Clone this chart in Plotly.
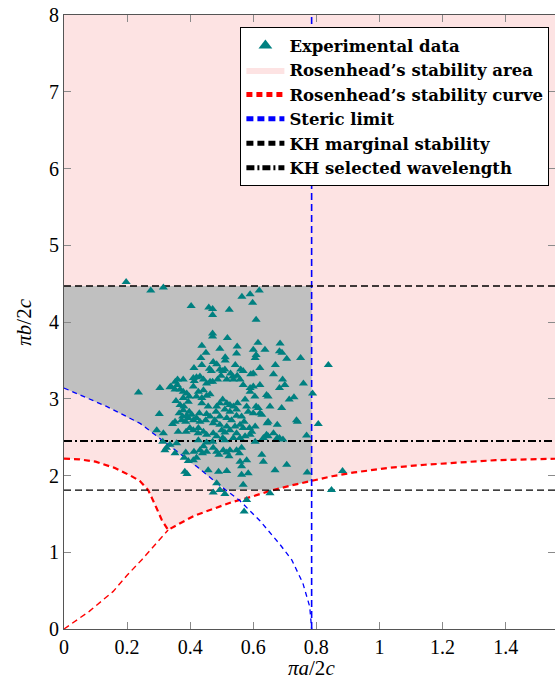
import numpy as np
import plotly.graph_objects as go

# ---------------- data ----------------
exp_x = [0.197, 0.275, 0.315, 0.403, 0.459, 0.471, 0.471, 0.524, 0.564, 0.590, 0.598, 0.619, 0.609,
         0.471, 0.471, 0.518, 0.437, 0.450, 0.494, 0.511, 0.511, 0.549, 0.547, 0.543, 0.560, 0.568,
         0.615, 0.600, 0.609, 0.637, 0.606, 0.685, 0.683, 0.691, 0.706, 0.750, 0.670, 0.621, 0.600,
         0.592, 0.434, 0.437, 0.473, 0.484, 0.412, 0.461, 0.467, 0.494, 0.503, 0.510, 0.528, 0.535,
         0.549, 0.353, 0.360, 0.378, 0.410, 0.413, 0.420, 0.431, 0.442, 0.452, 0.463, 0.471, 0.487,
         0.498, 0.516, 0.537, 0.558, 0.568, 0.590, 0.590, 0.600, 0.621, 0.664, 0.693, 0.700, 0.683,
         0.759, 0.729, 0.714, 0.642, 0.647, 0.605, 0.574, 0.304, 0.236, 0.339, 0.352, 0.359, 0.368,
         0.378, 0.389, 0.397, 0.394, 0.410, 0.426, 0.442, 0.420, 0.437, 0.452, 0.463, 0.437, 0.457,
         0.355, 0.378, 0.368, 0.380, 0.378, 0.365, 0.376, 0.389, 0.397, 0.405, 0.373, 0.386, 0.394,
         0.410, 0.420, 0.429, 0.452, 0.463, 0.344, 0.352, 0.362, 0.387, 0.399, 0.410, 0.426, 0.431,
         0.449, 0.473, 0.478, 0.494, 0.482, 0.484, 0.494, 0.503, 0.516, 0.526, 0.537, 0.547, 0.550,
         0.510, 0.526, 0.516, 0.531, 0.547, 0.563, 0.579, 0.584, 0.571, 0.600, 0.609, 0.616, 0.621,
         0.627, 0.653, 0.647, 0.676, 0.690, 0.737, 0.769, 0.644, 0.494, 0.500, 0.516, 0.526, 0.510,
         0.473, 0.452, 0.442, 0.425, 0.426, 0.452, 0.471, 0.484, 0.503, 0.510, 0.537, 0.547, 0.558,
         0.574, 0.590, 0.595, 0.606, 0.588, 0.568, 0.558, 0.542, 0.606, 0.632, 0.642, 0.647, 0.664,
         0.676, 0.683, 0.694, 0.294, 0.315, 0.313, 0.325, 0.320, 0.336, 0.352, 0.357, 0.386, 0.381,
         0.394, 0.410, 0.420, 0.412, 0.431, 0.439, 0.452, 0.442, 0.473, 0.484, 0.491, 0.505, 0.516,
         0.526, 0.523, 0.547, 0.556, 0.563, 0.558, 0.563, 0.579, 0.627, 0.706, 0.669, 0.771, 0.383,
         0.390, 0.457, 0.490, 0.516, 0.563, 0.584, 0.484, 0.494, 0.510, 0.473, 0.568, 0.653, 0.579,
         0.571, 0.838, 0.806, 0.788, 0.848, 0.883, 0.302, 0.336, 0.740, 0.632]
exp_y = [4.52, 4.41, 4.45, 4.21, 4.19, 4.17, 4.09, 4.16, 4.33, 4.36, 4.25, 4.41, 4.03,
         3.85, 3.81, 3.79, 3.69, 3.60, 3.65, 3.54, 3.50, 3.68, 3.59, 3.44, 3.38, 3.36,
         3.73, 3.64, 3.57, 3.64, 3.53, 3.72, 3.62, 3.60, 3.52, 3.53, 3.44, 3.40, 3.33,
         3.32, 3.53, 3.44, 3.48, 3.45, 3.40, 3.39, 3.36, 3.38, 3.36, 3.38, 3.33, 3.29,
         3.30, 3.22, 3.25, 3.25, 3.27, 3.23, 3.28, 3.29, 3.25, 3.20, 3.22, 3.22, 3.25,
         3.30, 3.25, 3.25, 3.25, 3.18, 3.14, 3.09, 3.16, 3.18, 3.32, 3.25, 3.18, 3.14,
         3.20, 3.02, 2.99, 3.05, 3.03, 3.03, 2.99, 3.14, 3.08, 3.16, 3.12, 3.18, 3.12,
         3.09, 3.07, 3.03, 2.96, 3.16, 3.09, 3.11, 3.03, 3.01, 3.04, 3.06, 2.94, 2.90,
         2.97, 3.01, 2.92, 2.90, 2.85, 2.81, 2.77, 2.78, 2.83, 2.79, 2.72, 2.70, 2.75,
         2.72, 2.75, 2.81, 2.80, 2.77, 2.67, 2.70, 2.57, 2.57, 2.62, 2.59, 2.62, 2.70,
         2.72, 2.68, 2.72, 2.77, 2.83, 2.90, 2.94, 2.99, 2.94, 2.92, 2.90, 2.86, 2.94,
         2.86, 2.83, 2.75, 2.72, 2.78, 2.77, 2.90, 2.83, 2.70, 2.81, 2.90, 2.88, 2.81,
         2.79, 2.90, 2.70, 2.66, 2.88, 2.72, 2.52, 2.68, 2.66, 2.59, 2.64, 2.59, 2.56,
         2.55, 2.53, 2.57, 2.55, 2.46, 2.43, 2.44, 2.51, 2.49, 2.46, 2.49, 2.55, 2.49,
         2.51, 2.53, 2.57, 2.64, 2.62, 2.62, 2.66, 2.64, 2.44, 2.49, 2.53, 2.51, 2.55,
         2.49, 2.49, 2.47, 2.59, 2.55, 2.44, 2.36, 2.33, 2.40, 2.29, 2.42, 2.30, 2.23,
         2.19, 2.20, 2.23, 2.31, 2.33, 2.29, 2.31, 2.38, 2.36, 2.31, 2.27, 2.33, 2.30,
         2.33, 2.25, 2.33, 2.29, 2.36, 2.18, 2.12, 2.20, 2.27, 2.14, 2.07, 2.04, 2.05,
         2.02, 2.07, 2.05, 2.06, 2.01, 2.03, 1.90, 1.81, 1.76, 1.78, 1.88, 1.77, 1.68,
         1.53, 3.44, 2.67, 3.07, 1.81, 2.06, 2.80, 3.15, 2.70, 2.18]

# Rosenhead's stability curve, three branches
red_upper_x = [0.0, 0.05, 0.10, 0.16, 0.21, 0.24, 0.267, 0.28, 0.294, 0.31, 0.33]
red_upper_y = [2.22, 2.21, 2.18, 2.10, 2.00, 1.93, 1.81, 1.70, 1.57, 1.42, 1.29]
red_lower_x = [0.0, 0.08, 0.156, 0.20, 0.246, 0.29, 0.33]
red_lower_y = [0.0, 0.23, 0.49, 0.70, 0.90, 1.10, 1.29]
red_right_x = [0.33, 0.36, 0.415, 0.47, 0.53, 0.60, 0.653, 0.72, 0.785, 0.85, 0.92, 1.03,
               1.144, 1.25, 1.368, 1.47, 1.571]
red_right_y = [1.29, 1.36, 1.48, 1.56, 1.65, 1.73, 1.80, 1.87, 1.93, 1.99, 2.04, 2.10,
               2.14, 2.17, 2.20, 2.21, 2.22]

# Steric limit
blue_x = [0.0, 0.135, 0.241, 0.336, 0.42, 0.494, 0.558, 0.621, 0.685, 0.722, 0.757, 0.779, 0.785]
blue_y = [3.14, 2.90, 2.68, 2.38, 2.12, 1.87, 1.67, 1.41, 1.10, 0.90, 0.60, 0.29, 0.0]
steric_x = 0.785

kh_upper = 4.47
kh_lower = 1.81
kh_selected = 2.45

x_max = 1.5565
y_max = 8.0
x_ticks = [0, 0.2, 0.4, 0.6, 0.8, 1.0, 1.2, 1.4]
x_ticktext = ["0", "0.2", "0.4", "0.6", "0.8", "1", "1.2", "1.4"]
y_ticks = [0, 1, 2, 3, 4, 5, 6, 7, 8]

PINK = "#fde3e3"
GRAY = "#c0c0c0"
TEAL = "#008080"
SERIF = "Liberation Serif, DejaVu Serif, serif"
LEG_FONT = "DejaVu Serif, serif"

fig = go.Figure()

# Rosenhead's stability area (above the red boundary)
bnd_x = red_upper_x + red_right_x[1:]
bnd_y = red_upper_y + red_right_y[1:]
fig.add_trace(go.Scatter(
    x=bnd_x + [bnd_x[-1], 0.0], y=bnd_y + [y_max, y_max],
    fill="toself", fillcolor=PINK, line=dict(width=0, color=PINK), mode="lines",
    name="Rosenhead’s stability area", legendrank=2, hoverinfo="skip"))

# grey region: between KH marginal lines, left of steric limit, above blue & red curves
xs = np.linspace(0.0, steric_x, 400)
low = np.maximum.reduce([np.interp(xs, blue_x, blue_y),
                         np.interp(xs, bnd_x, bnd_y),
                         np.full_like(xs, kh_lower)])
gx = list(xs) + [steric_x, 0.0]
gy = list(low) + [kh_upper, kh_upper]
fig.add_trace(go.Scatter(x=gx, y=gy, fill="toself", fillcolor=GRAY,
                         line=dict(width=0, color=GRAY), mode="lines",
                         showlegend=False, hoverinfo="skip"))

# red curves
fig.add_trace(go.Scatter(x=red_lower_x, y=red_lower_y, mode="lines",
                         line=dict(color="red", width=1.4, dash="6px,4px"),
                         showlegend=False, legendgroup="red"))
fig.add_trace(go.Scatter(x=bnd_x, y=bnd_y, mode="lines",
                         line=dict(color="red", width=2.2, dash="6px,4px"),
                         name="Rosenhead’s stability curve", legendrank=3, legendgroup="red"))

# steric limit
fig.add_trace(go.Scatter(x=blue_x, y=blue_y, mode="lines",
                         line=dict(color="blue", width=1.3, dash="5px,4px"),
                         showlegend=False, legendgroup="blue"))
fig.add_trace(go.Scatter(x=[steric_x, steric_x], y=[0, y_max], mode="lines",
                         line=dict(color="blue", width=1.6, dash="7px,4px"),
                         name="Steric limit", legendrank=4, legendgroup="blue"))

# KH lines
fig.add_trace(go.Scatter(x=[0, x_max], y=[kh_upper, kh_upper], mode="lines",
                         line=dict(color="black", width=1.4, dash="7px,4px"),
                         name="KH marginal stability", legendrank=5, legendgroup="kh"))
fig.add_trace(go.Scatter(x=[0, x_max], y=[kh_lower, kh_lower], mode="lines",
                         line=dict(color="black", width=1.4, dash="7px,4px"),
                         showlegend=False, legendgroup="kh"))
fig.add_trace(go.Scatter(x=[0, x_max], y=[kh_selected, kh_selected], mode="lines",
                         line=dict(color="black", width=2.0, dash="8px,3px,2px,3px"),
                         name="KH selected wavelength", legendrank=6))

# experimental data
fig.add_trace(go.Scatter(x=exp_x, y=exp_y, mode="markers",
                         marker=dict(symbol="triangle-up", size=8, color=TEAL, line=dict(width=0)),
                         name="Experimental data", legendrank=1))

axis_common = dict(showgrid=False, zeroline=False, showline=True, linecolor="#555555",
                   linewidth=1.2, mirror="allticks", ticks="inside", ticklen=7,
                   tickcolor="#8a8a8a", tickwidth=1, automargin=False,
                   ticklabeloverflow="allow",
                   tickfont=dict(family=SERIF, size=20, color="black"))

fig.update_xaxes(range=[0, x_max], tickvals=x_ticks, ticktext=x_ticktext, **axis_common)
fig.update_yaxes(range=[0, y_max], tickvals=y_ticks, **axis_common)

fig.update_layout(
    width=555, height=684,
    margin=dict(l=64, r=0, t=15, b=55),
    paper_bgcolor="white", plot_bgcolor="white",
    showlegend=True,
    legend=dict(x=0.9886, xanchor="right", y=0.98, yanchor="top",
                bgcolor="white", bordercolor="black", borderwidth=1,
                font=dict(family=LEG_FONT, size=16.5, color="black", weight="bold"),
                tracegroupgap=0, itemsizing="constant", itemwidth=38),
    annotations=[
        dict(text="<i>πa</i>/2<i>c</i>", x=0.505, y=-0.064, xref="paper", yref="paper",
             xanchor="center", yanchor="middle", showarrow=False,
             font=dict(family=SERIF, size=21, color="black")),
        dict(text="<i>πb</i>/2<i>c</i>", x=-0.082, y=0.5, xref="paper", yref="paper",
             xanchor="center", yanchor="middle", showarrow=False, textangle=-90,
             font=dict(family=SERIF, size=21, color="black")),
    ],
)

# remove the default page margin so the figure fills the window exactly
fig.write_html("out.html",
               config={"displayModeBar": False},
               post_script="document.body.style.margin='0';document.body.style.overflow='hidden';")
